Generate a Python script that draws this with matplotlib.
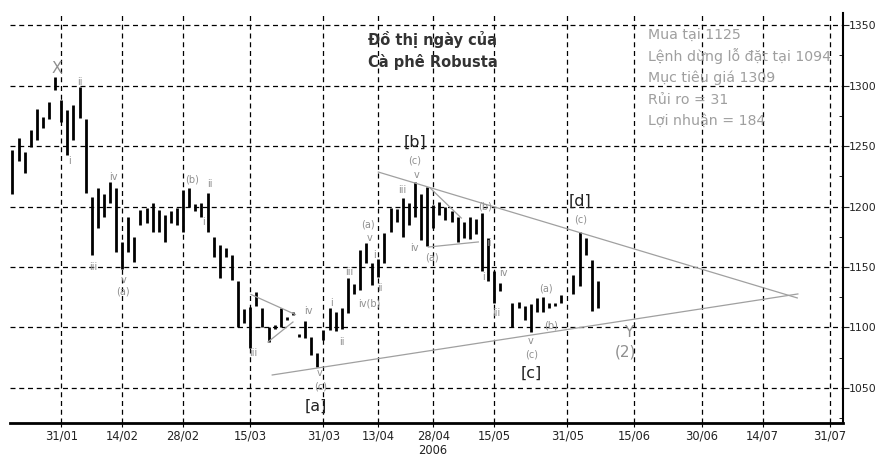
import matplotlib
matplotlib.use("Agg")
import matplotlib.pyplot as plt
from matplotlib.ticker import MultipleLocator

# trading-day index (0 = 31/01/2006), high and low of each daily bar
bar_idx = [-8, -7, -6, -5, -4, -3, -2, -1, 0, 1, 2, 3, 4, 5, 6, 7, 8, 9, 10, 11,
           12, 13, 14, 15, 16, 17, 18, 19, 20, 21, 22, 23, 24, 25, 26, 27, 28, 29, 30, 31,
           32, 33, 34, 35, 36, 37, 38, 39, 40, 41, 42, 43, 44, 45, 46, 47, 48, 49, 50, 51,
           52, 53, 54, 55, 56, 57, 58, 59, 60, 61, 62, 63, 64, 65, 66, 67, 68, 69, 70, 71,
           72, 74, 75, 76, 77, 78, 79, 80, 81, 82, 84, 85, 86, 87, 88]
bar_high = [1247, 1257, 1245, 1263, 1281, 1274, 1286, 1307, 1288, 1280, 1284, 1299, 1272, 1208, 1215, 1210, 1220, 1215, 1171, 1191,
            1175, 1197, 1199, 1203, 1197, 1193, 1196, 1199, 1214, 1215, 1202, 1203, 1211, 1175, 1168, 1166, 1160, 1138, 1115, 1117,
            1129, 1116, 1100, 1102, 1116, 1109, 1113, 1095, 1105, 1092, 1079, 1098, 1116, 1113, 1116, 1141, 1136, 1164, 1170, 1153,
            1157, 1178, 1199, 1198, 1207, 1203, 1220, 1210, 1216, 1201, 1204, 1200, 1196, 1191, 1187, 1191, 1190, 1195, 1174, 1147,
            1137, 1120, 1121, 1118, 1119, 1124, 1125, 1120, 1120, 1127, 1143, 1179, 1174, 1156, 1138]
bar_low = [1210, 1238, 1228, 1249, 1255, 1265, 1272, 1296, 1270, 1243, 1255, 1273, 1211, 1160, 1182, 1191, 1203, 1162, 1148, 1162,
           1154, 1185, 1186, 1179, 1179, 1171, 1186, 1185, 1179, 1200, 1196, 1191, 1179, 1158, 1141, 1158, 1139, 1100, 1104, 1083,
           1118, 1100, 1088, 1099, 1100, 1106, 1110, 1092, 1091, 1077, 1067, 1090, 1098, 1097, 1099, 1112, 1128, 1131, 1153, 1135,
           1142, 1153, 1179, 1187, 1175, 1185, 1191, 1172, 1167, 1182, 1193, 1189, 1187, 1171, 1174, 1173, 1177, 1147, 1138, 1120,
           1130, 1100, 1116, 1106, 1096, 1113, 1113, 1116, 1118, 1120, 1128, 1134, 1160, 1114, 1116]

tick_idx = [0, 10, 20, 31, 43, 52, 61, 71, 83, 94, 105, 115, 126]
tick_labels = ["31/01", "14/02", "28/02", "15/03", "31/03", "13/04", "28/04",
               "15/05", "31/05", "15/06", "30/06", "14/07", "31/07"]

# trend lines: (x0, y0, x1, y1)
trend_lines = [
    (52.0, 1228.5, 120.7, 1124.4),
    (34.6, 1060.7, 120.8, 1127.7),
    (31.1, 1127.3, 38.4, 1110.7),
    (33.9, 1088.0, 38.0, 1104.5),
    (60.5, 1215.3, 65.6, 1190.5),
    (60.2, 1166.5, 68.4, 1170.7),
]

# Elliott wave labels (text, x, price)
wave_labels = [
    ("ii", 3.1, 1303), ("i", 1.3, 1238), ("iii", 5.2, 1150), ("iv", 8.5, 1224),
    ("v", 10.2, 1139), ("(a)", 10.2, 1130), ("(b)", 21.5, 1222), ("ii", 24.3, 1219),
    ("i", 23.4, 1187), ("iii", 31.5, 1079), ("iv", 40.5, 1114), ("v", 42.3, 1062),
    ("(c)", 42.6, 1051), ("i", 44.4, 1120), ("ii", 46.1, 1088), ("iii", 47.2, 1146),
    ("iv(b)", 50.5, 1120), ("v", 50.5, 1174), ("(a)", 50.3, 1185), ("i", 51.3, 1160),
    ("ii", 52.3, 1133), ("iii", 56.0, 1214), ("v", 58.2, 1226), ("(c)", 58.0, 1238),
    ("iv", 57.9, 1166), ("(a)", 60.8, 1158), ("(b)", 69.5, 1200), ("ii", 70.2, 1170),
    ("i", 69.3, 1142), ("iv", 72.5, 1145), ("iii", 71.3, 1112), ("(a)", 79.5, 1132),
    ("(b)", 80.3, 1102), ("v", 77.0, 1089), ("(c)", 77.2, 1078), ("(c)", 85.1, 1189),
]
big_labels = [("[a]", 41.8, 1035), ("[b]", 58.0, 1253), ("[c]", 77.0, 1062), ("[d]", 85.1, 1204)]
grey_big = [("X", -0.8, 1314), ("(2)", 92.5, 1080), ("Y", 93.0, 1096)]

info_lines = ["Mua tại 1125", "Lệnh dừng lỗ đặt tại 1094", "Mục tiêu giá 1309",
              "Rủi ro = 31", "Lợi nhuận = 184"]

W, H = 878, 455
fig = plt.figure(figsize=(W / 100, H / 100), dpi=100)
ax = fig.add_axes([10 / W, (H - 423) / H, (843 - 10) / W, (423 - 13) / H])

ax.vlines(bar_idx, bar_low, bar_high, color="black", linewidth=2)

for x0, y0, x1, y1 in trend_lines:
    ax.plot([x0, x1], [y0, y1], color="#a0a0a0", linewidth=0.9)

for t, x, y in wave_labels:
    ax.text(x, y, t, fontsize=7, color="#8f8f8f", ha="center", va="center")
for t, x, y in big_labels:
    ax.text(x, y, t, fontsize=11.5, color="#222222", ha="center", va="center")
for t, x, y in grey_big:
    ax.text(x, y, t, fontsize=11, color="#8f8f8f", ha="center", va="center")

ax.set_xlim(-8.4, 128.2)
ax.set_ylim(1021, 1360)
ax.set_xticks(tick_idx)
ax.set_xticklabels(tick_labels, fontsize=8.3, color="#222222")
ax.set_yticks([1050, 1100, 1150, 1200, 1250, 1300, 1350])
ax.yaxis.set_minor_locator(MultipleLocator(25))
ax.yaxis.tick_right()
ax.tick_params(axis="y", which="major", direction="out", length=4, labelsize=7.8, pad=0.5, colors="#222222")
ax.tick_params(axis="y", which="minor", direction="in", length=3)
ax.tick_params(axis="x", direction="out", length=3, pad=2)

ax.grid(True, which="major", color="black", linestyle=(0, (4, 3)), linewidth=0.9)
for s in ["left", "top"]:
    ax.spines[s].set_visible(False)
ax.spines["right"].set_linewidth(1.5)
ax.spines["bottom"].set_linewidth(2)

fig.text(433 / W, 1 - 450 / H, "2006", fontsize=8.3, color="#222222", ha="center", va="center")

fig.text(433 / W, 1 - 40 / H, "Đồ thị ngày của", fontsize=10.5, fontweight="bold",
         color="#333333", ha="center", va="center")
fig.text(433 / W, 1 - 62 / H, "Cà phê Robusta", fontsize=10.5, fontweight="bold",
         color="#333333", ha="center", va="center")
for k, line in enumerate(info_lines):
    fig.text(648 / W, 1 - (35 + 21.5 * k) / H, line, fontsize=10.2, color="#9f9f9f",
             ha="left", va="center")

fig.savefig("out.png", dpi=100)
